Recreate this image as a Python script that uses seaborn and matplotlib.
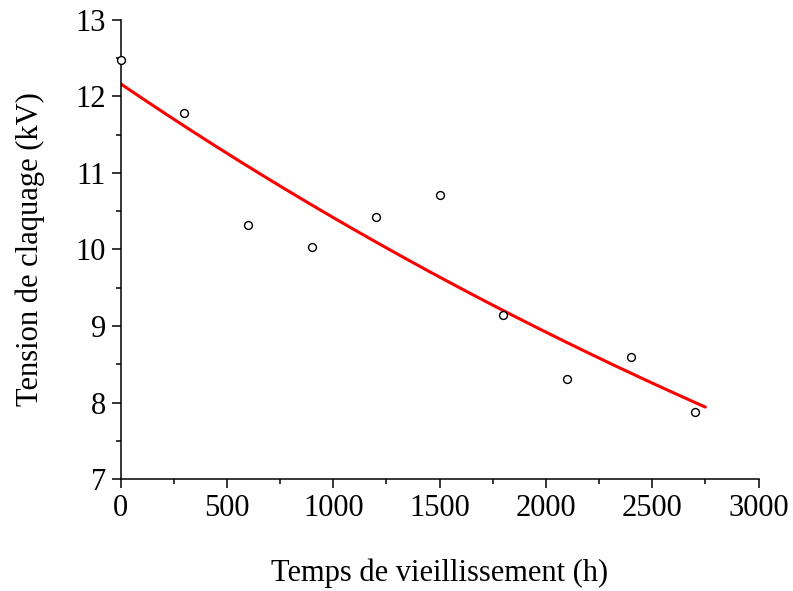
import numpy as np
import pandas as pd
import matplotlib
matplotlib.use("Agg")
import matplotlib.pyplot as plt
import seaborn as sns
from matplotlib.ticker import MultipleLocator

time_h = [0, 300, 600, 900, 1200, 1500, 1800, 2100, 2400, 2700]
voltage_kv = [12.48, 11.78, 10.32, 10.03, 10.42, 10.71, 9.15, 8.31, 8.59, 7.88]

sns.set_theme(style="ticks")
plt.rcParams['font.family'] = ['Liberation Serif', 'DejaVu Serif']
plt.rcParams['mathtext.fontset'] = 'stix'

df = pd.DataFrame({"t": time_h, "v": voltage_kv})

# exponential fit of the data
b, loga = np.polyfit(df["t"], np.log(df["v"]), 1)
fit_x = np.linspace(0, 2750, 200)
fit_df = pd.DataFrame({"t": fit_x, "v": np.exp(loga) * np.exp(b * fit_x)})

fig = plt.figure(figsize=(7.93, 5.91), dpi=100)
ax = fig.add_axes([0.1522, 0.1895, 0.8043, 0.7767])

sns.lineplot(data=fit_df, x="t", y="v", ax=ax, color="#ff0000", linewidth=2.2, zorder=2)
sns.scatterplot(data=df, x="t", y="v", ax=ax, marker="o", s=32, facecolor="white",
                edgecolor="black", linewidth=1.0, zorder=5, clip_on=False)

ax.set_xlim(0, 3000)
ax.set_ylim(7, 13)
ax.xaxis.set_major_locator(MultipleLocator(500))
ax.xaxis.set_minor_locator(MultipleLocator(250))
ax.yaxis.set_major_locator(MultipleLocator(1))
ax.yaxis.set_minor_locator(MultipleLocator(0.5))
ax.tick_params(axis="both", which="major", direction="out", length=6.5, width=1.1,
               labelsize=22, color="black", labelcolor="black", pad=4)
ax.tick_params(axis="both", which="minor", direction="out", length=3.6, width=1.1, color="black")
for s in ["top", "right"]:
    ax.spines[s].set_visible(False)
for s in ["left", "bottom"]:
    ax.spines[s].set_linewidth(1.1)
    ax.spines[s].set_color("black")

ax.set_xlabel("Temps de vieillissement (h)", fontsize=22, labelpad=26, color="black")
ax.set_ylabel("Tension de claquage (kV)", fontsize=22, labelpad=22, color="black")

fig.savefig("out.png", dpi=100)
